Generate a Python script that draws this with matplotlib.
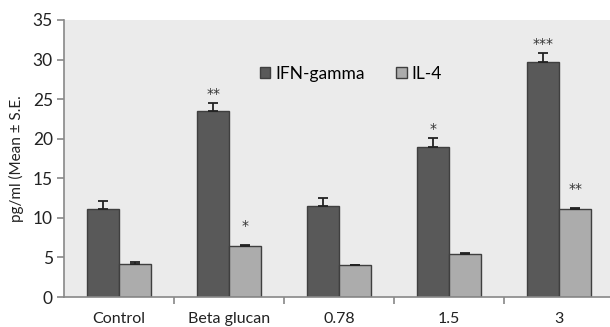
import matplotlib
matplotlib.use("Agg")
import matplotlib.pyplot as plt
import numpy as np

categories = ["Control", "Beta glucan", "0.78", "1.5", "3"]
ifn_gamma = [11.1, 23.55, 11.5, 19.0, 29.7]
ifn_err = [1.0, 0.95, 1.05, 1.05, 1.1]
il4 = [4.2, 6.45, 4.0, 5.4, 11.08]
il4_err = [0.2, 0.15, 0.1, 0.15, 0.2]
ifn_marks = ["", "**", "", "*", "***"]
il4_marks = ["", "*", "", "", "**"]
yticks = [0, 5, 10, 15, 20, 25, 30, 35]

plt.rcParams['font.family'] = ['Lato', 'DejaVu Sans']

fig = plt.figure(figsize=(6.1, 3.27), dpi=100)
ax = fig.add_axes([64/610, 30/327, 546/610, 277/327])
ax.set_facecolor('#ebebeb')

x = np.arange(len(categories))
w = 0.29
dark = '#595959'
light = '#acacac'
edge = '#3f3f3f'
ax.bar(x - w/2, ifn_gamma, w, color=dark, edgecolor=edge, linewidth=1.0,
       label='IFN-gamma', zorder=2)
ax.bar(x + w/2, il4, w, color=light, edgecolor=edge, linewidth=1.0,
       label='IL-4', zorder=2)
ax.errorbar(x - w/2, ifn_gamma, yerr=[np.zeros(5), ifn_err], fmt='none',
            ecolor='#222222', elinewidth=1.3, capsize=3.5, capthick=1.3, zorder=3)
ax.errorbar(x + w/2, il4, yerr=[np.zeros(5), il4_err], fmt='none',
            ecolor='#222222', elinewidth=1.3, capsize=3.5, capthick=1.3, zorder=3)

for xi, v, e, m in zip(x, ifn_gamma, ifn_err, ifn_marks):
    if m:
        ax.text(xi - w/2, v + e + 0.3, m, ha='center', va='bottom',
                fontsize=10, color='#333333', family='DejaVu Sans')
for xi, v, e, m in zip(x, il4, il4_err, il4_marks):
    if m:
        ax.text(xi + w/2, v + e + 1.5, m, ha='center', va='bottom',
                fontsize=10, color='#333333', family='DejaVu Sans')

ax.set_xlim(-0.5, 4.46)
ax.set_ylim(0, 35)
ax.set_yticks(yticks)
ax.set_yticklabels([str(t) for t in yticks], fontsize=12.5, color='#222222')
ax.set_xticks(x)
ax.set_xticklabels(categories, fontsize=11.5, color='#222222')
ax.tick_params(axis='x', length=0, pad=11)
ax.set_xticks(np.arange(0.5, 4.0, 1.0), minor=True)
ax.tick_params(axis='x', which='minor', length=5, color='#888888', width=1.2)
ax.tick_params(axis='y', length=5, color='#888888', width=1.2, pad=3)
for s in ['top', 'right']:
    ax.spines[s].set_visible(False)
for s in ['left', 'bottom']:
    ax.spines[s].set_color('#888888')
    ax.spines[s].set_linewidth(1.2)
ax.set_ylabel('pg/ml (Mean ± S.E.', fontsize=11, color='#222222', labelpad=6)

ax.legend(loc='upper left', bbox_to_anchor=(0.33, 0.89), ncol=2,
          frameon=False, fontsize=12.5, handlelength=0.6, handleheight=0.6,
          handletextpad=0.3, columnspacing=1.8)

fig.savefig('out.png', dpi=100)
